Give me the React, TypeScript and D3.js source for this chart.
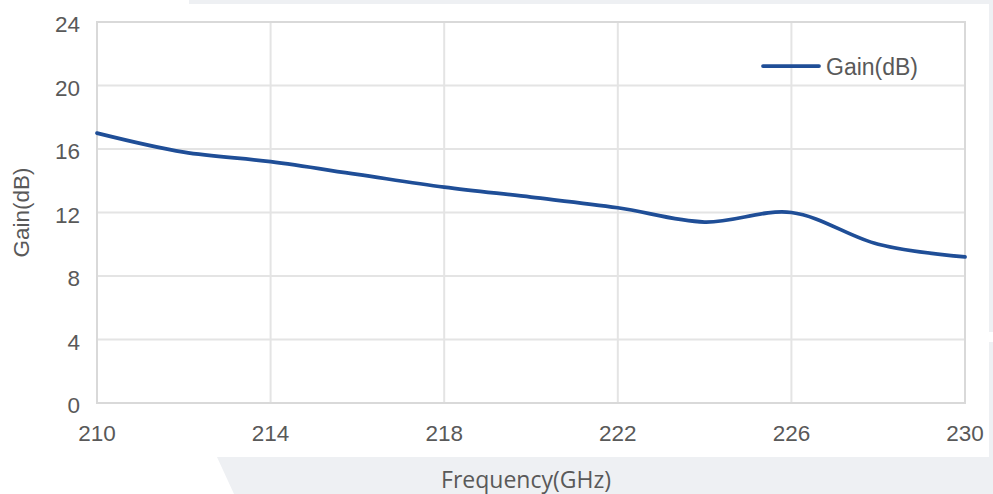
import React, { useEffect, useRef } from 'react';
import * as d3 from 'd3';

const freqs = [210, 212, 214, 216, 218, 220, 222, 224, 226, 228, 230];
const gain = [17.0, 15.8, 15.2, 14.4, 13.6, 12.97, 12.3, 11.4, 12.0, 10.0, 9.2];
const xTicks = [210, 214, 218, 222, 226, 230];
const yTicks = [0, 4, 8, 12, 16, 20, 24];
const seriesName = 'Gain(dB)';
const xTitle = 'Frequency(GHz)';
const yTitle = 'Gain(dB)';

function App() {
  const ref = useRef<SVGSVGElement | null>(null);

  useEffect(() => {
    const width = 993;
    const height = 494;
    const margin = { top: 22, right: 28, bottom: 91, left: 97 };
    const lineColor = '#1f4e97';
    const textColor = '#595959';

    const svg = d3.select(ref.current);
    svg.selectAll('*').remove();

    // faint decorative background bands
    const bg = svg.append('g').attr('fill', '#eef0f3');
    bg.append('rect').attr('x', 189).attr('y', 0).attr('width', width - 189).attr('height', 4);
    bg.append('rect').attr('x', 989).attr('y', 0).attr('width', 4).attr('height', 332);
    bg.append('rect').attr('x', 989).attr('y', 342).attr('width', 4).attr('height', 116);
    bg.append('polygon').attr('points', `217,457 ${width},457 ${width},${height} 234,${height}`);

    const x = d3.scaleLinear([210, 230], [margin.left, width - margin.right]);
    const y = d3.scaleLinear([0, 24], [height - margin.bottom, margin.top]);

    // gridlines
    const grid = svg.append('g').attr('stroke', '#e4e4e4').attr('stroke-width', 2);
    grid.selectAll('line.v')
      .data(xTicks.slice(1, -1))
      .join('line')
      .attr('class', 'v')
      .attr('x1', (d) => x(d))
      .attr('x2', (d) => x(d))
      .attr('y1', y(0))
      .attr('y2', y(24));
    grid.selectAll('line.h')
      .data(yTicks.slice(1, -1))
      .join('line')
      .attr('class', 'h')
      .attr('x1', x(210))
      .attr('x2', x(230))
      .attr('y1', (d) => y(d))
      .attr('y2', (d) => y(d));

    // plot frame
    svg.append('rect')
      .attr('x', x(210))
      .attr('y', y(24))
      .attr('width', x(230) - x(210))
      .attr('height', y(0) - y(24))
      .attr('fill', 'none')
      .attr('stroke', '#d9d9d9')
      .attr('stroke-width', 2);

    // tick labels
    svg.append('g')
      .attr('font-family', '"Liberation Sans", Arial, sans-serif')
      .attr('font-size', 22.5)
      .attr('fill', textColor)
      .attr('text-anchor', 'middle')
      .selectAll('text')
      .data(xTicks)
      .join('text')
      .attr('x', (d) => x(d))
      .attr('y', y(0) + 38)
      .text((d) => d);

    svg.append('g')
      .attr('font-family', '"Liberation Sans", Arial, sans-serif')
      .attr('font-size', 22.5)
      .attr('fill', textColor)
      .attr('text-anchor', 'end')
      .selectAll('text')
      .data(yTicks)
      .join('text')
      .attr('x', x(210) - 17)
      .attr('y', (d) => y(d) + 10)
      .text((d) => d);

    // axis titles
    svg.append('text')
      .attr('transform', `translate(29,${(y(0) + y(24)) / 2}) rotate(-90)`)
      .attr('text-anchor', 'middle')
      .attr('font-family', '"Liberation Sans", Arial, sans-serif')
      .attr('font-size', 22.5)
      .attr('fill', textColor)
      .text(yTitle);

    svg.append('text')
      .attr('x', 526)
      .attr('y', 488)
      .attr('text-anchor', 'middle')
      .attr('font-family', '"Open Sans", sans-serif')
      .attr('font-size', 23)
      .attr('fill', textColor)
      .text(xTitle);

    // series line
    const line = d3.line<number>()
      .curve(d3.curveCatmullRom)
      .x((d, i) => x(freqs[i]))
      .y((d) => y(d));

    svg.append('path')
      .datum(gain)
      .attr('fill', 'none')
      .attr('stroke', lineColor)
      .attr('stroke-width', 3.75)
      .attr('stroke-linecap', 'round')
      .attr('d', line);

    // legend
    const legend = svg.append('g').attr('transform', 'translate(763,66)');
    legend.append('line')
      .attr('x1', 0)
      .attr('x2', 56)
      .attr('stroke', lineColor)
      .attr('stroke-width', 3.75)
      .attr('stroke-linecap', 'round');
    legend.append('text')
      .attr('x', 63)
      .attr('y', 8.5)
      .attr('font-family', '"Liberation Sans", Arial, sans-serif')
      .attr('font-size', 23)
      .attr('fill', textColor)
      .text(seriesName);
  }, []);

  return (
    <svg
      ref={ref}
      width={993}
      height={494}
      style={{ position: 'absolute', left: 0, top: 0, background: '#fff' }}
    />
  );
}

export default App;
